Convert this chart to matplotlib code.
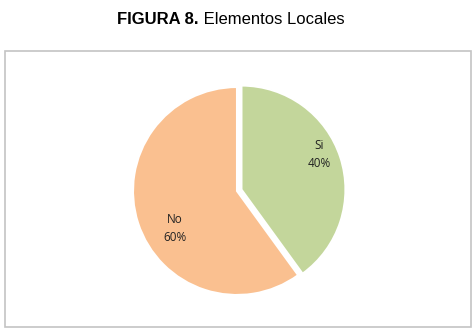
import matplotlib
matplotlib.use("Agg")
import matplotlib.pyplot as plt
from matplotlib.patches import Rectangle
import numpy as np

categories = ["Si", "No"]
values = [40, 60]
colors = ["#C3D69B", "#FAC090"]
explode = [0.045, 0.0]

W, H = 477, 331
fig = plt.figure(figsize=(W/100, H/100), dpi=100)

# outer frame
fig.patches.append(Rectangle((5/W, (H-327)/H), (471-5)/W, (327-51)/H,
                             transform=fig.transFigure, fill=False,
                             edgecolor="#C4C4C4", linewidth=1.2))

t1 = fig.text(0, 1-19/H, "FIGURA 8.", fontfamily="Liberation Sans", fontweight="bold",
              fontsize=12, ha="left", va="center")
t2 = fig.text(0, 1-19/H, " Elementos Locales", fontfamily="Liberation Sans",
              fontsize=12, ha="left", va="center")
r = fig.canvas.get_renderer()
w1 = t1.get_window_extent(r).width
w2 = t2.get_window_extent(r).width
x0 = 231 - (w1 + w2) / 2
t1.set_x(x0 / W)
t2.set_x((x0 + w1) / W)

cx, cy = 237, H - 191
size = 260
ax = fig.add_axes([(cx - size/2)/W, (cy - size/2)/H, size/W, size/H])
wedges, _ = ax.pie(values, colors=colors, explode=explode, startangle=90,
                   counterclock=False, radius=1.0,
                   wedgeprops=dict(edgecolor="white", linewidth=1.5))
ax.set_xlim(-1.25, 1.25)
ax.set_ylim(-1.25, 1.25)
ax.set_aspect("equal")
ax.axis("off")

total = sum(values)
label_dist = [0.82, 0.70]
label_ang_shift = [6, 13]
for w, cat, v, d, s in zip(wedges, categories, values, label_dist, label_ang_shift):
    ang = np.deg2rad((w.theta1 + w.theta2) / 2 + s)
    ox, oy = w.center
    ax.text(ox + d*np.cos(ang), oy + d*np.sin(ang), f"{cat}\n{round(100*v/total)}%",
            ha="center", va="center", fontsize=8.5, fontfamily="Open Sans",
            color="#222222", linespacing=1.5)

fig.savefig("out.png", dpi=100)
